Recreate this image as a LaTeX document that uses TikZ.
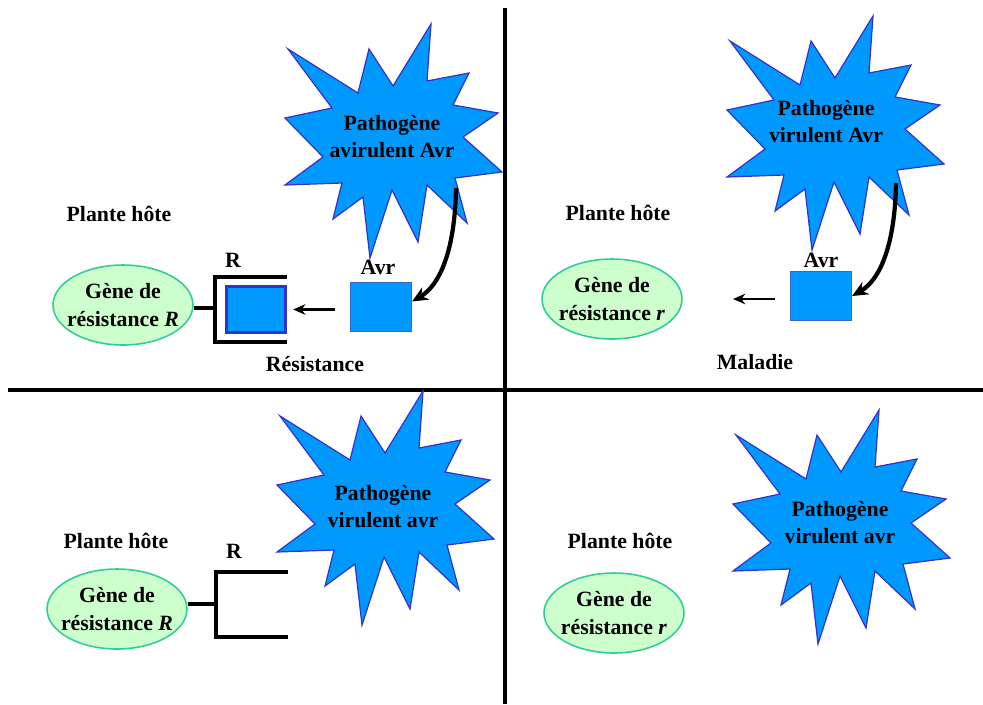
\documentclass[tikz,border=0pt]{standalone}
\usepackage{fontspec}
\setmainfont{Liberation Serif}
\usetikzlibrary{arrows.meta,shapes.geometric}
\definecolor{burstblue}{RGB}{0,153,255}
\definecolor{burstline}{RGB}{51,51,204}
\definecolor{avrline}{RGB}{51,102,204}
\definecolor{genegreen}{RGB}{204,255,204}
\definecolor{geneline}{RGB}{51,204,153}

\begin{document}
\begin{tikzpicture}[x=0.02cm,y=-0.02cm,
    lbl/.style={font=\fontsize{12.4pt}{15.4pt}\selectfont\bfseries,align=center,inner sep=0pt},
    gene/.style={lbl,ellipse,draw=geneline,fill=genegreen,line width=0.9pt,minimum width=2.8cm,minimum height=1.6cm,inner xsep=-6pt,inner ysep=0pt},
    burst/.style={fill=burstblue,draw=burstline,line width=0.7pt},
    avrbox/.style={draw=avrline,fill=burstblue,line width=0.7pt,minimum width=1.22cm,minimum height=0.98cm,inner sep=0pt},
    recbox/.style={draw=burstline,fill=burstblue,line width=1.6pt,minimum width=1.19cm,minimum height=0.93cm,inner sep=0pt},
    stem/.style={line width=2pt},
    flow/.style={-{Stealth[length=7pt,width=6pt]},line width=1.5pt},
    curvearrow/.style={-{Stealth[length=9pt,width=8pt]},line width=2.4pt}]
    \useasboundingbox (0,0) rectangle (983,704);
    % quadrants
    \draw[stem] (505,8) -- (505,704);
    \draw[stem] (8,390) -- (983,390);
    % pathogens
    \foreach \dx/\dy in {0/0,442/-8,-8/367,448/386}
        \filldraw[burst,shift={(\dx,\dy)}] (431,24) -- (427,81) -- (469,73) -- (453,105) -- (498,113)
            -- (463,137) -- (502,172) -- (455,178) -- (467,223) -- (427,185) -- (418,242) -- (392,190)
            -- (370,258) -- (363,197) -- (333,219) -- (342,183) -- (285,185) -- (323,157) -- (285,118)
            -- (332,108) -- (288,49) -- (358,93) -- (369,49) -- (393,86) -- cycle;
    \node[lbl] (p1) at (392,137) {Pathogène\\avirulent Avr};
    \node[lbl] (p2) at (826,122) {Pathogène\\virulent Avr};
    \node[lbl] (p3) at (383,507) {Pathogène\\virulent avr};
    \node[lbl] (p4) at (840,523) {Pathogène\\virulent avr};

    % top left
    \node[lbl] (host1) at (119,214) {Plante hôte};
    \node[gene] (g1) at (123,305) {Gène de\\résistance \textit{R}};
    \node[recbox] (rec1) at (256,309.5) {};
    \node[avrbox] (a1) at (381,307) {};
    \node[lbl] (r1) at (233,260) {R};
    \node[lbl] (avr1) at (378,267) {Avr};
    \node[lbl] (res1) at (315,364) {Résistance};
    \coordinate (k1) at (215,308);
    \draw[stem] (k1 -| g1.east) -- (k1);
    \draw[stem] (287,277) -- (215,277) -- (215,342) -- (287,342);
    \draw[flow,shorten <=8.5pt,shorten >=3.4pt] (rec1.east -| a1.west) -- (rec1.east);
    \coordinate (c1) at (456,188);
    \draw[curvearrow] (c1) .. controls (455,250) and (440,285) .. (a1.10);

    % top right
    \node[lbl] (host2) at (618,213) {Plante hôte};
    \node[gene] (g2) at (612,299) {Gène de\\résistance \textit{r}};
    \node[avrbox] (a2) at (821,296) {};
    \node[lbl] (avr2) at (821,260) {Avr};
    \node[lbl] (mal2) at (755,362) {Maladie};
    \coordinate (t2) at (733,299);
    \draw[flow,shorten <=8.5pt] (t2 -| a2.west) -- (t2);
    \coordinate (c2) at (896,183);
    \draw[curvearrow] (c2) .. controls (895,245) and (880,280) .. (a2.east);

    % bottom left
    \node[lbl] (host3) at (116,541) {Plante hôte};
    \node[gene] (g3) at (117,609) {Gène de\\résistance \textit{R}};
    \node[lbl] (r3) at (234,551) {R};
    \coordinate (k3) at (216,604);
    \draw[stem] (k3 -| g3.east) -- (k3);
    \draw[stem] (288,572) -- (216,572) -- (216,637) -- (288,637);

    % bottom right
    \node[lbl] (host4) at (620,541) {Plante hôte};
    \node[gene] (g4) at (614,613) {Gène de\\résistance \textit{r}};
\end{tikzpicture}
\end{document}
